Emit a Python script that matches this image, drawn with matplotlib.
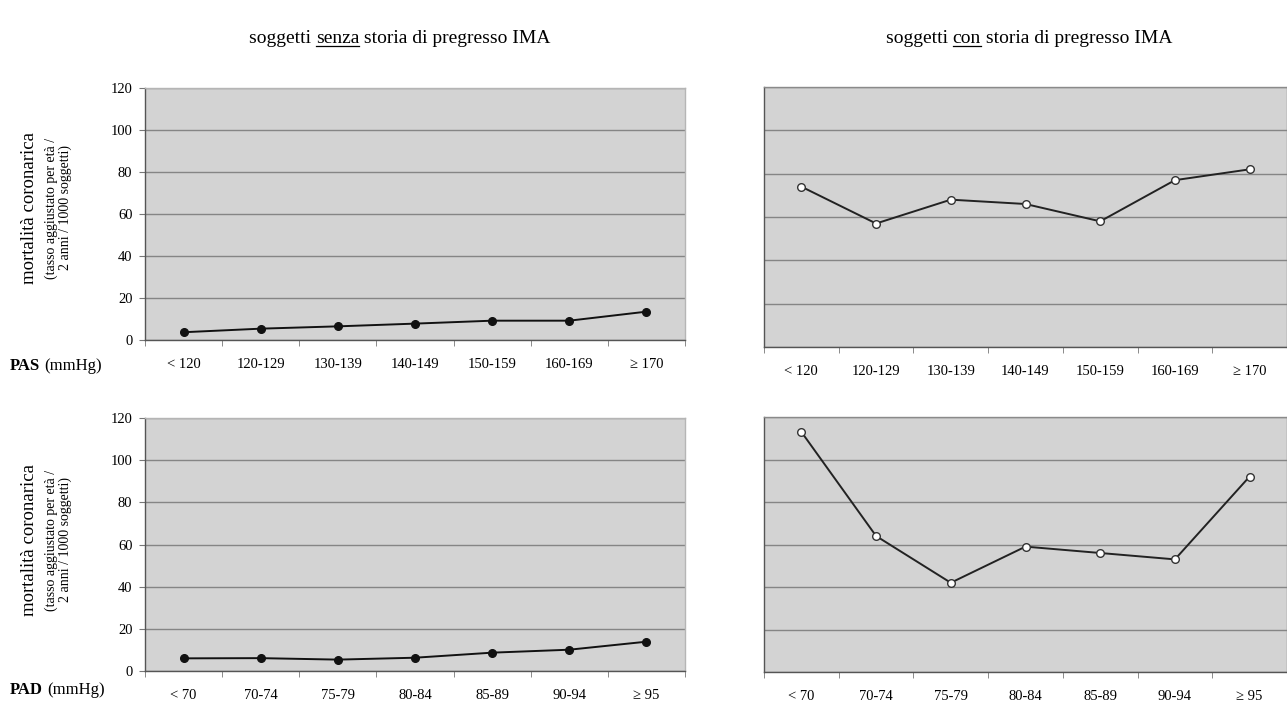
import matplotlib
matplotlib.use("Agg")
import matplotlib.pyplot as plt
from matplotlib.ticker import FixedLocator, NullFormatter

plt.rcParams['font.family'] = ['Liberation Serif', 'DejaVu Serif']

# data
pas_labels = ['< 120', '120-129', '130-139', '140-149', '150-159', '160-169', '≥ 170']
pad_labels = ['< 70', '70-74', '75-79', '80-84', '85-89', '90-94', '≥ 95']

pas_senza = [3.7, 5.4, 6.5, 7.8, 9.2, 9.2, 13.5]
pas_con = [74, 57, 68, 66, 58, 77, 82]
pad_senza = [6.0, 6.1, 5.4, 6.3, 8.7, 10.1, 13.9]
pad_con = [113, 64, 42, 59, 56, 53, 92]

yticks = [0, 20, 40, 60, 80, 100, 120]

W, H = 1287, 702
fig = plt.figure(figsize=(W / 100, H / 100), dpi=100)


def box(x0, y0, x1, y1):
    # pixel box -> figure fraction
    return [x0 / W, 1 - y1 / H, (x1 - x0) / W, (y1 - y0) / H]


def panel(rect, labels, values, filled, show_y):
    ax = fig.add_axes(rect)
    ax.set_facecolor('#d3d3d3')
    x = list(range(len(labels)))
    if filled:
        ax.plot(x, values, color='#111111', lw=1.4, marker='o', ms=5.5,
                mfc='#111111', mec='#111111', zorder=3)
    else:
        ax.plot(x, values, color='#222222', lw=1.4, marker='o', ms=5.5,
                mfc='white', mec='#333333', mew=1.0, zorder=3)
    ax.set_xlim(-0.5, len(labels) - 0.5)
    ax.set_ylim(0, 120)
    ax.set_yticks(yticks)
    ax.yaxis.grid(True, color='#858585', lw=1.0)
    ax.set_axisbelow(True)
    ax.set_xticks(x)
    ax.set_xticklabels(labels, fontsize=10.5)
    ax.xaxis.set_minor_locator(FixedLocator([i - 0.5 for i in range(len(labels) + 1)]))
    ax.xaxis.set_minor_formatter(NullFormatter())
    ax.tick_params(axis='x', which='major', length=0, pad=13)
    ax.tick_params(axis='x', which='minor', length=4, color='#777777')
    for s in ax.spines.values():
        s.set_color('#8a8a8a')
        s.set_linewidth(1.0)
    if show_y:
        ax.tick_params(axis='y', length=4, labelsize=10.5, color='#777777', pad=5)
        ax.spines['top'].set_color('#b5b5b5')
        ax.spines['right'].set_color('#b5b5b5')
    else:
        ax.tick_params(axis='y', length=0, labelleft=False)
    ax.spines['bottom'].set_color('#555555')
    ax.spines['left'].set_color('#555555')
    return ax


panel(box(145, 88, 685, 340), pas_labels, pas_senza, True, True)
panel(box(764, 87, 1287, 347), pas_labels, pas_con, False, False)
panel(box(145, 418, 685, 671), pad_labels, pad_senza, True, True)
panel(box(764, 417, 1287, 672), pad_labels, pad_con, False, False)

# y labels
for yc in (208, 540):
    fig.text(30 / W, 1 - yc / H, 'mortalità coronarica', rotation=90,
             ha='center', va='center', fontsize=13.5)
    fig.text(58 / W, 1 - yc / H, '(tasso aggiustato per età /\n2 anni / 1000 soggetti)',
             rotation=90, ha='center', va='center', fontsize=10, linespacing=1.05)

# axis names on the x label row
for yc, name in ((366, 'PAS'), (690, 'PAD')):
    t = fig.text(10 / W, 1 - yc / H, name, fontweight='bold', fontsize=12, va='center')
    fig.canvas.draw()
    bb = t.get_window_extent()
    fig.text((bb.x1 + 4) / W, 1 - yc / H, '(mmHg)', fontsize=12, va='center')

# titles with underlined word
fig.canvas.draw()
renderer = fig.canvas.get_renderer()


def title(cx, cy, pre, word, post):
    fs = 14
    parts = [pre, word, post]
    widths = []
    for p in parts:
        t = fig.text(0, 0, p, fontsize=fs)
        widths.append(t.get_window_extent(renderer).width)
        t.remove()
    total = sum(widths)
    x = cx - total / 2
    for i, p in enumerate(parts):
        fig.text(x / W, 1 - cy / H, p, fontsize=fs, va='baseline')
        if i == 1:
            fig.add_artist(plt.Line2D([x / W, (x + widths[i]) / W],
                                      [1 - (cy + 3) / H, 1 - (cy + 3) / H],
                                      color='black', lw=0.9))
        x += widths[i]


title(400, 43, 'soggetti ', 'senza', ' storia di pregresso IMA')
title(1029, 43, 'soggetti ', 'con', ' storia di pregresso IMA')

fig.savefig('out.png', dpi=100)
